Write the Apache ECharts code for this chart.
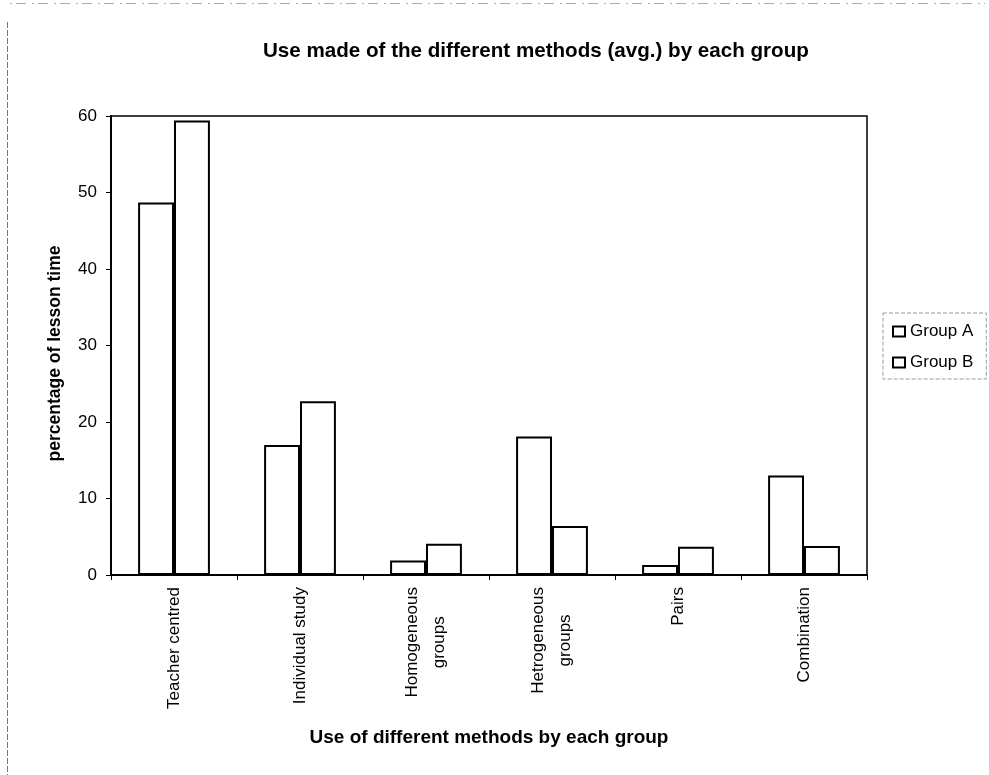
<!DOCTYPE html>
<html>
<head>
<meta charset="utf-8">
<script src="https://cdn.jsdelivr.net/npm/echarts@6/dist/echarts.min.js"></script>
<style>html,body{margin:0;padding:0;background:#fff}#c{width:989px;height:775px}</style>
</head>
<body>
<div id="c"></div>
<script>
const categories = ['Teacher centred', 'Individual study', 'Homogeneous\ngroups', 'Hetrogeneous\ngroups', 'Pairs', 'Combination'];
const groupA = [48.7, 17.0, 1.9, 18.1, 1.3, 13.0];
const groupB = [59.4, 22.7, 4.1, 6.4, 3.7, 3.8];
const seriesNames = ['Group A', 'Group B'];
const yTicks = { min: 0, max: 60, interval: 10 };

const FONT = '"Liberation Sans", Arial, sans-serif';
const chart = echarts.init(document.getElementById('c'), null, { renderer: 'canvas' });
const barStyle = { color: '#ffffff', borderColor: '#000000', borderWidth: 2 };

chart.setOption({
  backgroundColor: '#ffffff',
  animation: false,
  title: {
    text: 'Use made of the different methods (avg.) by each group',
    left: 258, top: 36,
    textStyle: { fontFamily: FONT, fontWeight: 'bold', fontSize: 20.6, color: '#000' }
  },
  legend: {
    orient: 'vertical',
    left: 883, top: 313,
    padding: [10, 13, 8, 9],
    itemGap: 14,
    itemWidth: 12, itemHeight: 10,
    icon: 'rect',
    borderColor: '#999', borderWidth: 1, borderType: 'dashed',
    textStyle: { fontFamily: FONT, fontSize: 17, color: '#000' },
    data: seriesNames
  },
  grid: {
    left: 111, top: 116, right: 122, bottom: 200,
    show: true, borderColor: '#000', borderWidth: 1.5, backgroundColor: 'transparent'
  },
  xAxis: {
    type: 'category',
    data: categories,
    name: 'Use of different methods by each group',
    nameLocation: 'middle',
    nameGap: 153,
    nameTextStyle: { fontFamily: FONT, fontWeight: 'bold', fontSize: 19, color: '#000' },
    axisLine: { lineStyle: { color: '#000', width: 2 } },
    axisTick: { show: true, length: 5, lineStyle: { color: '#000' } },
    axisLabel: {
      rotate: 90, margin: 12, interval: 0,
      fontFamily: FONT, fontSize: 17, color: '#000',
      formatter: function (v) { return v.split('\n').map(s => '{a|' + s + '}').join('\n'); },
      rich: { a: { fontFamily: FONT, fontSize: 17, color: '#000', align: 'center', lineHeight: 27 } }
    }
  },
  yAxis: {
    type: 'value',
    min: yTicks.min, max: yTicks.max, interval: yTicks.interval,
    name: 'percentage of lesson time',
    nameLocation: 'middle',
    nameGap: 47,
    nameTextStyle: { fontFamily: FONT, fontWeight: 'bold', fontSize: 17.5, color: '#000', padding: [0, 16, 0, 0] },
    axisLine: { show: true, lineStyle: { color: '#000', width: 2 } },
    axisTick: { show: true, length: 5, lineStyle: { color: '#000' } },
    axisLabel: { margin: 14, fontFamily: FONT, fontSize: 17, color: '#000' },
    splitLine: { show: false }
  },
  series: [
    { name: seriesNames[0], type: 'bar', data: groupA, barGap: '0%', barCategoryGap: '43%', itemStyle: barStyle },
    { name: seriesNames[1], type: 'bar', data: groupB, barGap: '0%', barCategoryGap: '43%', itemStyle: barStyle }
  ],
  graphic: [
    { type: 'line', shape: { x1: 7.5, y1: 22, x2: 7.5, y2: 775 }, style: { stroke: '#777', lineWidth: 1, lineDash: [6, 2] } },
    { type: 'line', shape: { x1: 10, y1: 3.5, x2: 985, y2: 3.5 }, style: { stroke: '#aaa', lineWidth: 1, lineDash: [2, 4, 10, 6] } }
  ]
});
</script>
</body>
</html>
